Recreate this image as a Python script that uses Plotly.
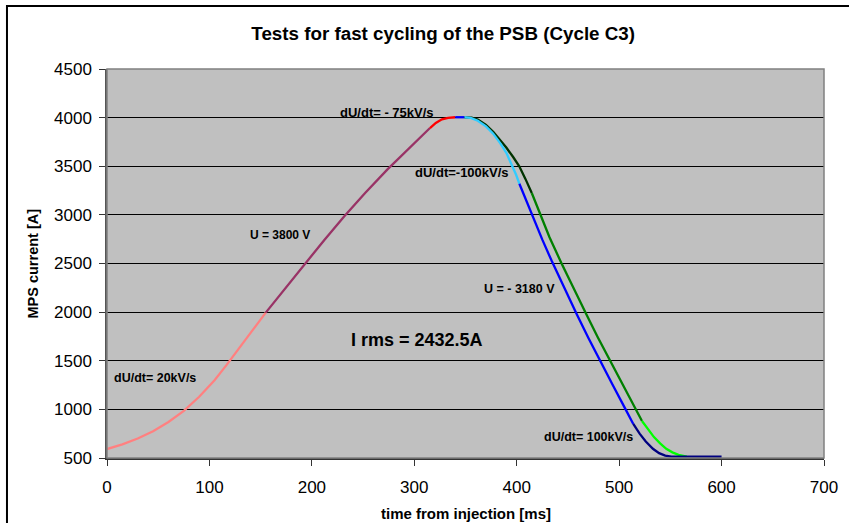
import plotly.graph_objects as go

# Magnet power supply current during one PSB cycle, split into regulation phases.
# Times in ms from injection, currents in A.
t_ramp_start = [0, 15, 30, 45, 60, 75, 90, 105, 117, 130, 143, 155]
i_ramp_start = [592, 640, 700, 775, 870, 985, 1130, 1300, 1460, 1640, 1820, 1995]

t_ramp_volt = [155, 175, 193.3, 212, 231.7, 252, 273.6, 295, 315.3]
i_ramp_volt = [1995, 2260, 2500, 2740, 2985, 3225, 3465, 3690, 3893]

t_ramp_end = [315.3, 321, 327, 333, 340]
i_ramp_end = [3893, 3945, 3982, 3998, 4004]

t_flat_top = [340, 349]
i_flat_top = [4004, 4004]

# Fast descent branch
t_fast_round = [349, 355, 362, 370, 377, 384, 390, 396, 399.5, 402.6]
i_fast_round = [4004, 3998, 3968, 3910, 3835, 3735, 3635, 3500, 3410, 3320]

t_fast_down = [402.6, 409, 416, 425, 434, 446, 458.5, 470, 481.3, 494, 506.3, 513.8]
i_fast_down = [3320, 3150, 2970, 2745, 2530, 2255, 1980, 1735, 1500, 1245, 1000, 850]

t_fast_tail = [513.8, 520, 526, 533, 539, 545, 551, 600]
i_fast_tail = [850, 750, 670, 595, 550, 525, 515, 513]

# Slower descent branch
t_slow_round = [349, 356, 362, 370, 377, 384, 390, 396.5, 402.5, 408.5, 414.7]
i_slow_round = [4004, 4000, 3980, 3925, 3855, 3770, 3690, 3595, 3500, 3370, 3225]

t_slow_down = [414.7, 422.7, 432, 443.8, 455, 467.6, 479, 491.1, 503.5, 516.4, 522.3]
i_slow_down = [3225, 3010, 2770, 2500, 2250, 1985, 1745, 1500, 1250, 995, 880]

t_slow_tail = [522.3, 528, 534, 540, 546, 552, 558, 566]
i_slow_tail = [880, 800, 715, 650, 595, 558, 533, 514]

x_ticks = [0, 100, 200, 300, 400, 500, 600, 700]
y_ticks = [500, 1000, 1500, 2000, 2500, 3000, 3500, 4000, 4500]

segments = [
    (t_ramp_start, i_ramp_start, "#FF8080"),
    (t_ramp_volt, i_ramp_volt, "#993366"),
    (t_ramp_end, i_ramp_end, "#FF0000"),
    (t_flat_top, i_flat_top, "#0000FF"),
    (t_slow_round, i_slow_round, "#003300"),
    (t_slow_down, i_slow_down, "#008000"),
    (t_slow_tail, i_slow_tail, "#00FF00"),
    (t_fast_round, i_fast_round, "#33CCFF"),
    (t_fast_down, i_fast_down, "#0000FF"),
    (t_fast_tail, i_fast_tail, "#000080"),
]

FONT = "Arial, Liberation Sans, sans-serif"

fig = go.Figure()
for tx, iy, col in segments:
    fig.add_trace(go.Scatter(x=tx, y=iy, mode="lines",
                             line=dict(color=col, width=2.3),
                             showlegend=False, hoverinfo="skip"))

labels = [
    (273.4, 4054, "dU/dt= - 75kV/s", 13),
    (347, 3433, "dU/dt=-100kV/s", 13),
    (168.9, 2788, "U = 3800 V", 12),
    (302.4, 1717, "I rms = 2432.5A", 18),
    (403.2, 2241, "U = - 3180 V", 12.5),
    (470, 719, "dU/dt= 100kV/s", 12.5),
    (46.9, 1322, "dU/dt= 20kV/s", 12.5),
]
for lx, ly, txt, sz in labels:
    fig.add_annotation(x=lx, y=ly, xref="x", yref="y", text="<b>%s</b>" % txt,
                       showarrow=False, font=dict(family=FONT, size=sz, color="#000"))

# axis titles
fig.add_annotation(x=0.5, y=-0.1414, xref="paper", yref="paper",
                   text="<b>time from injection [ms]</b>", showarrow=False,
                   xanchor="center", yanchor="middle",
                   font=dict(family=FONT, size=15, color="#000"))
fig.add_annotation(x=-0.1046, y=0.5, xref="paper", yref="paper",
                   text="<b>MPS current [A]</b>", showarrow=False, textangle=-90,
                   xanchor="center", yanchor="middle",
                   font=dict(family=FONT, size=14.5, color="#000"))

# grey frame around the plotting area
fig.add_shape(type="rect", xref="paper", yref="paper", x0=0, y0=0, x1=1, y1=1,
              line=dict(color="#808080", width=1.5), layer="above")
# outer chart border (extends past the page's right and bottom edges)
fig.add_shape(type="rect", xref="paper", yref="paper", x0=-0.1395, y0=-0.2,
              x1=1.06, y1=1.162, line=dict(color="#000", width=2), layer="above")

fig.update_layout(
    width=849, height=523,
    margin=dict(l=107, r=25, t=69, b=65),
    paper_bgcolor="#FFFFFF", plot_bgcolor="#C0C0C0",
    font=dict(family=FONT, color="#000"),
    title=dict(text="<b>Tests for fast cycling of the PSB (Cycle C3)</b>",
               x=0.522, xanchor="center", y=0.937, yanchor="middle",
               font=dict(size=18.8, family=FONT)),
    xaxis=dict(range=[0, 700], tickvals=x_ticks, ticks="outside", ticklen=6,
               tickcolor="#333", showgrid=False, zeroline=False,
               showline=True, linecolor="#333", linewidth=1.5,
               tickfont=dict(size=17), ticklabelstandoff=7, automargin=False),
    yaxis=dict(range=[500, 4500], tickvals=y_ticks, ticks="outside", ticklen=6,
               tickcolor="#333", showgrid=True, gridcolor="#000", gridwidth=1,
               zeroline=False, showline=True, linecolor="#555", linewidth=1.5,
               tickfont=dict(size=17), ticklabelstandoff=4, automargin=False),
)

fig.write_html("out.html")
